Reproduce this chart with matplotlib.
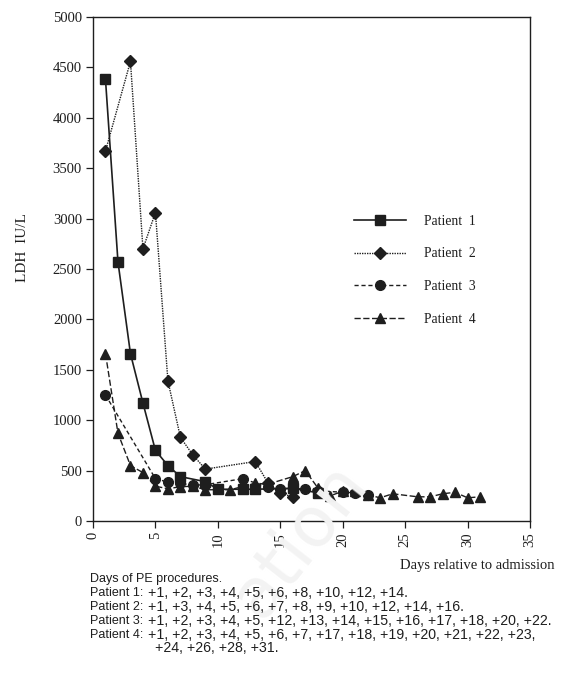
import matplotlib
matplotlib.use("Agg")
import matplotlib.pyplot as plt
from matplotlib.lines import Line2D

# LDH readings (IU/L), by day relative to admission
p1_days = [1, 2, 3, 4, 5, 6, 7, 9, 10, 12, 13, 16, 18]
p1_ldh = [4380, 2570, 1660, 1170, 700, 550, 440, 390, 315, 315, 315, 325, 280]

p2_days = [1, 3, 4, 5, 6, 7, 8, 9, 13, 14, 15, 16]
p2_ldh = [3670, 4560, 2700, 3060, 1390, 830, 655, 515, 590, 380, 275, 240]

p3_days = [1, 5, 6, 7, 8, 9, 12, 14, 15, 16, 17, 18, 20, 21, 22]
p3_ldh = [1250, 420, 385, 375, 355, 360, 420, 335, 315, 325, 315, 300, 285, 280, 260]

p4_days = [1, 2, 3, 4, 5, 6, 7, 8, 9, 11, 13, 14, 16, 17, 18, 19, 20, 21,
           22, 23, 24, 26, 27, 28, 29, 30, 31]
p4_ldh = [1660, 870, 550, 480, 345, 320, 340, 345, 310, 310, 375, 365, 440,
          500, 330, 250, 295, 295, 260, 230, 270, 240, 240, 270, 285, 230, 240]

labels = ["Patient  1", "Patient  2", "Patient  3", "Patient  4"]

caption = [
    ("Days of PE procedures.", ""),
    ("Patient 1:", "+1, +2, +3, +4, +5, +6, +8, +10, +12, +14."),
    ("Patient 2:", "+1, +3, +4, +5, +6, +7, +8, +9, +10, +12, +14, +16."),
    ("Patient 3:", "+1, +2, +3, +4, +5, +12, +13, +14, +15, +16, +17, +18, +20, +22."),
    ("Patient 4:", "+1, +2, +3, +4, +5, +6, +7, +17, +18, +19, +20, +21, +22, +23,"),
    ("", "+24, +26, +28, +31."),
]

ink = "#1e1e1e"
serif = ["Liberation Serif", "DejaVu Serif"]
narrow = ["Liberation Sans Narrow", "Liberation Sans", "DejaVu Sans"]

fig = plt.figure(figsize=(5.64, 6.79), dpi=100)
ax = fig.add_axes([93 / 564, 1 - 521 / 679, 437 / 564, 504 / 679])

styles = [
    dict(marker="s", ms=7.5, ls="-", lw=1.2),
    dict(marker="D", ms=6.2, ls=(0, (1, 0.8)), lw=1.0),
    dict(marker="o", ms=7, ls=(0, (3, 2)), lw=1.0),
    dict(marker="^", ms=7, ls=(0, (4.5, 1.8)), lw=1.0),
]
series = [(p1_days, p1_ldh), (p2_days, p2_ldh), (p3_days, p3_ldh), (p4_days, p4_ldh)]

for (d, v), st, lab in zip(series, styles, labels):
    ax.plot(d, v, color=ink, mfc=ink, mec=ink, label=lab, **st)

ax.set_xlim(0, 35)
ax.set_ylim(0, 5000)
ax.set_xticks(range(0, 36, 5))
ax.set_yticks(range(0, 5001, 500))
for sp in ax.spines.values():
    sp.set_color(ink)
    sp.set_linewidth(1.0)
ax.tick_params(colors=ink, length=5, width=0.9, direction="out", pad=3)
for t in ax.get_yticklabels():
    t.set_fontfamily(serif)
    t.set_fontsize(10.5)
for t in ax.get_xticklabels():
    t.set_fontfamily(serif)
    t.set_fontsize(10.5)
    t.set_rotation(90)

handles = [Line2D([0], [0], color=ink, mfc=ink, mec=ink, **st) for st in styles]
leg = ax.legend(handles, labels, loc="upper left", bbox_to_anchor=(0.57, 0.632),
                frameon=False, handlelength=3.8, labelspacing=1.45,
                handletextpad=1.3, prop={"family": serif, "size": 9.8})
for t in leg.get_texts():
    t.set_color(ink)

fig.text(23 / 564, 1 - 248 / 679, "LDH  IU/L", rotation=90, ha="center", va="center",
         family=serif, fontsize=11, color=ink)
fig.text(555 / 564, 1 - 566 / 679, "Days relative to admission", ha="right", va="center",
         family=serif, fontsize=10.5, color=ink)

# faint watermark visible behind the plot
fig.text(300 / 564, 1 - 540 / 679, "ation", rotation=52, ha="center", va="center",
         fontsize=50, color="#f3f3f3", zorder=0, family=["DejaVu Sans"])

y0 = 579
for i, (head, body) in enumerate(caption):
    y = 1 - (y0 + i * 13.9) / 679
    if head:
        fig.text(90 / 564, y, head, ha="left", va="center", family=narrow,
                 fontsize=9, color=ink)
    if body:
        x = 148 if head else 155
        fig.text(x / 564, y, body, ha="left", va="center", family=narrow,
                 fontsize=10.2, color=ink)

fig.savefig("out.png", dpi=100)
